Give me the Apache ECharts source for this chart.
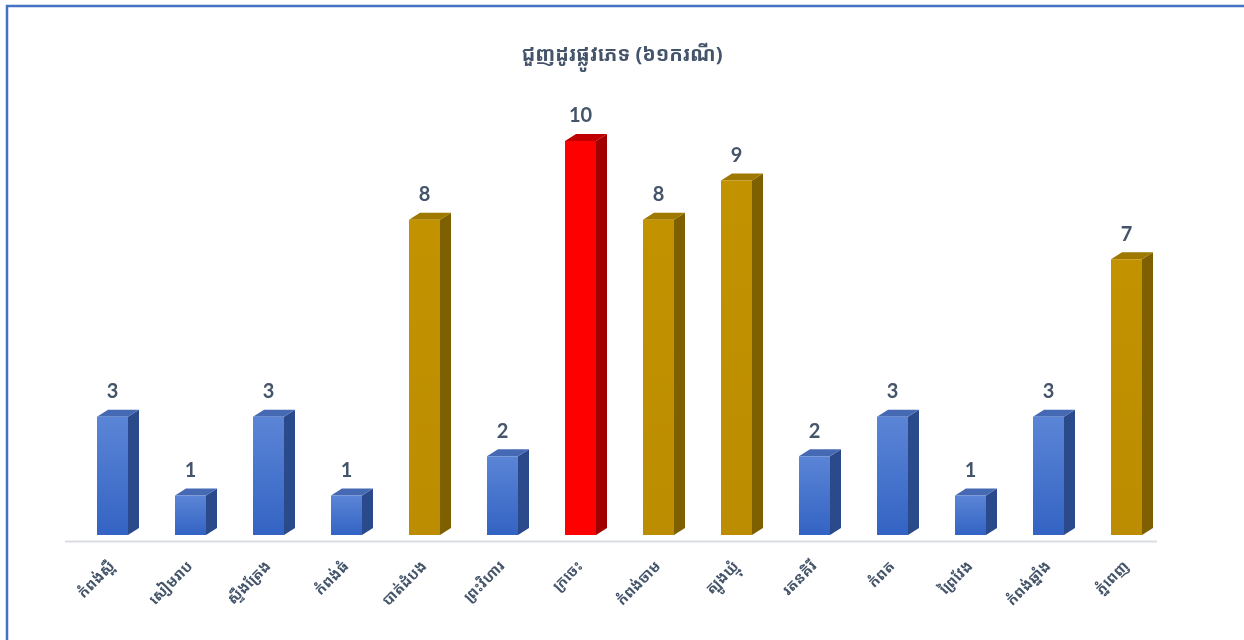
<!DOCTYPE html>
<html>
<head>
<meta charset="utf-8">
<script src="https://cdn.jsdelivr.net/npm/echarts@6/dist/echarts.min.js"></script>
<style>html,body{margin:0;padding:0;background:#fff}#c{width:1244px;height:640px}</style>
</head>
<body>
<div id="c"></div>
<script>
const titleText = 'ជួញដូរផ្លូវភេទ (៦១ករណី)';
const categories = ['កំពង់ស្ពឺ','សៀមរាប','ស្ទឹងត្រែង','កំពង់ធំ','បាត់ដំបង','ព្រះវិហារ','ក្រចេះ','កំពង់ចាម','ត្បូងឃ្មុំ','រតនគិរី','កំពត','ព្រៃវែង','កំពង់ឆ្នាំង','ភ្នំពេញ'];
const values = [3,1,3,1,8,2,10,8,9,2,3,1,3,7];
const groups = ['blue','blue','blue','blue','gold','blue','red','gold','gold','blue','blue','blue','blue','gold'];

const palette = {
  blue: {front: ['#5b85d6','#3363c3'], side: '#2b4a8c', top: '#4669b4'},
  gold: {front: ['#c29200','#bc8d00'], side: '#7f6000', top: '#9f7800'},
  red:  {front: ['#ff0000','#ff0000'], side: '#a00000', top: '#c00000'}
};
const textColor = '#44546a';
const khmerFont = '"Noto Sans Khmer","Khmer OS","Khmer OS System","Noto Sans",sans-serif';

const chart = echarts.init(document.getElementById('c'));
chart.setOption({
  backgroundColor: '#fff',
  animation: false,
  title: {
    text: titleText, left: 'center', top: 40,
    textStyle: {color: textColor, fontSize: 20, fontWeight: 'bold', fontFamily: khmerFont}
  },
  grid: {left: 73.5, right: 78.5, top: 141, bottom: 105},
  xAxis: {
    type: 'category', data: categories, offset: 6,
    axisLine: {show: false}, axisTick: {show: false},
    axisLabel: {rotate: 45, interval: 0, margin: 23, color: textColor, fontSize: 15, fontWeight: 'bold', fontFamily: khmerFont}
  },
  yAxis: {type: 'value', min: 0, max: 10, show: false, splitLine: {show: false}},
  graphic: [
    {type: 'rect', shape: {x: 7, y: 6, width: 1300, height: 700}, style: {fill: 'none', stroke: '#4472c4', lineWidth: 2.5}, silent: true},
    {type: 'line', shape: {x1: 65, y1: 541.5, x2: 1157, y2: 541.5}, style: {stroke: '#d9dde3', lineWidth: 2}, silent: true}
  ],
  series: [{
    type: 'custom',
    data: values.map((v, i) => [i, v]),
    renderItem: function (params, api) {
      const idx = params.dataIndex;
      const c = palette[groups[idx]];
      const top = api.coord([api.value(0), api.value(1)]);
      const bot = api.coord([api.value(0), 0]);
      const w = 31, d = 11, h = 7;
      const xl = top[0] - w / 2, xr = top[0] + w / 2, yt = top[1], yb = bot[1];
      return {
        type: 'group',
        children: [
          {type: 'polygon', shape: {points: [[xr, yt], [xr + d, yt - h], [xr + d, yb - h], [xr, yb]]}, style: {fill: c.side}},
          {type: 'polygon', shape: {points: [[xl, yt], [xl + d, yt - h], [xr + d, yt - h], [xr, yt]]}, style: {fill: c.top}},
          {type: 'rect', shape: {x: xl, y: yt, width: w, height: yb - yt},
            style: {fill: new echarts.graphic.LinearGradient(0, 0, 0, 1, [{offset: 0, color: c.front[0]}, {offset: 1, color: c.front[1]}])}},
          {type: 'text', style: {x: top[0], y: yt - 25, text: String(values[idx]), align: 'center', verticalAlign: 'middle',
            fill: textColor, fontSize: 20, fontWeight: 'bold', fontFamily: 'Lato, "Open Sans", sans-serif'}}
        ]
      };
    }
  }]
});
</script>
</body>
</html>
